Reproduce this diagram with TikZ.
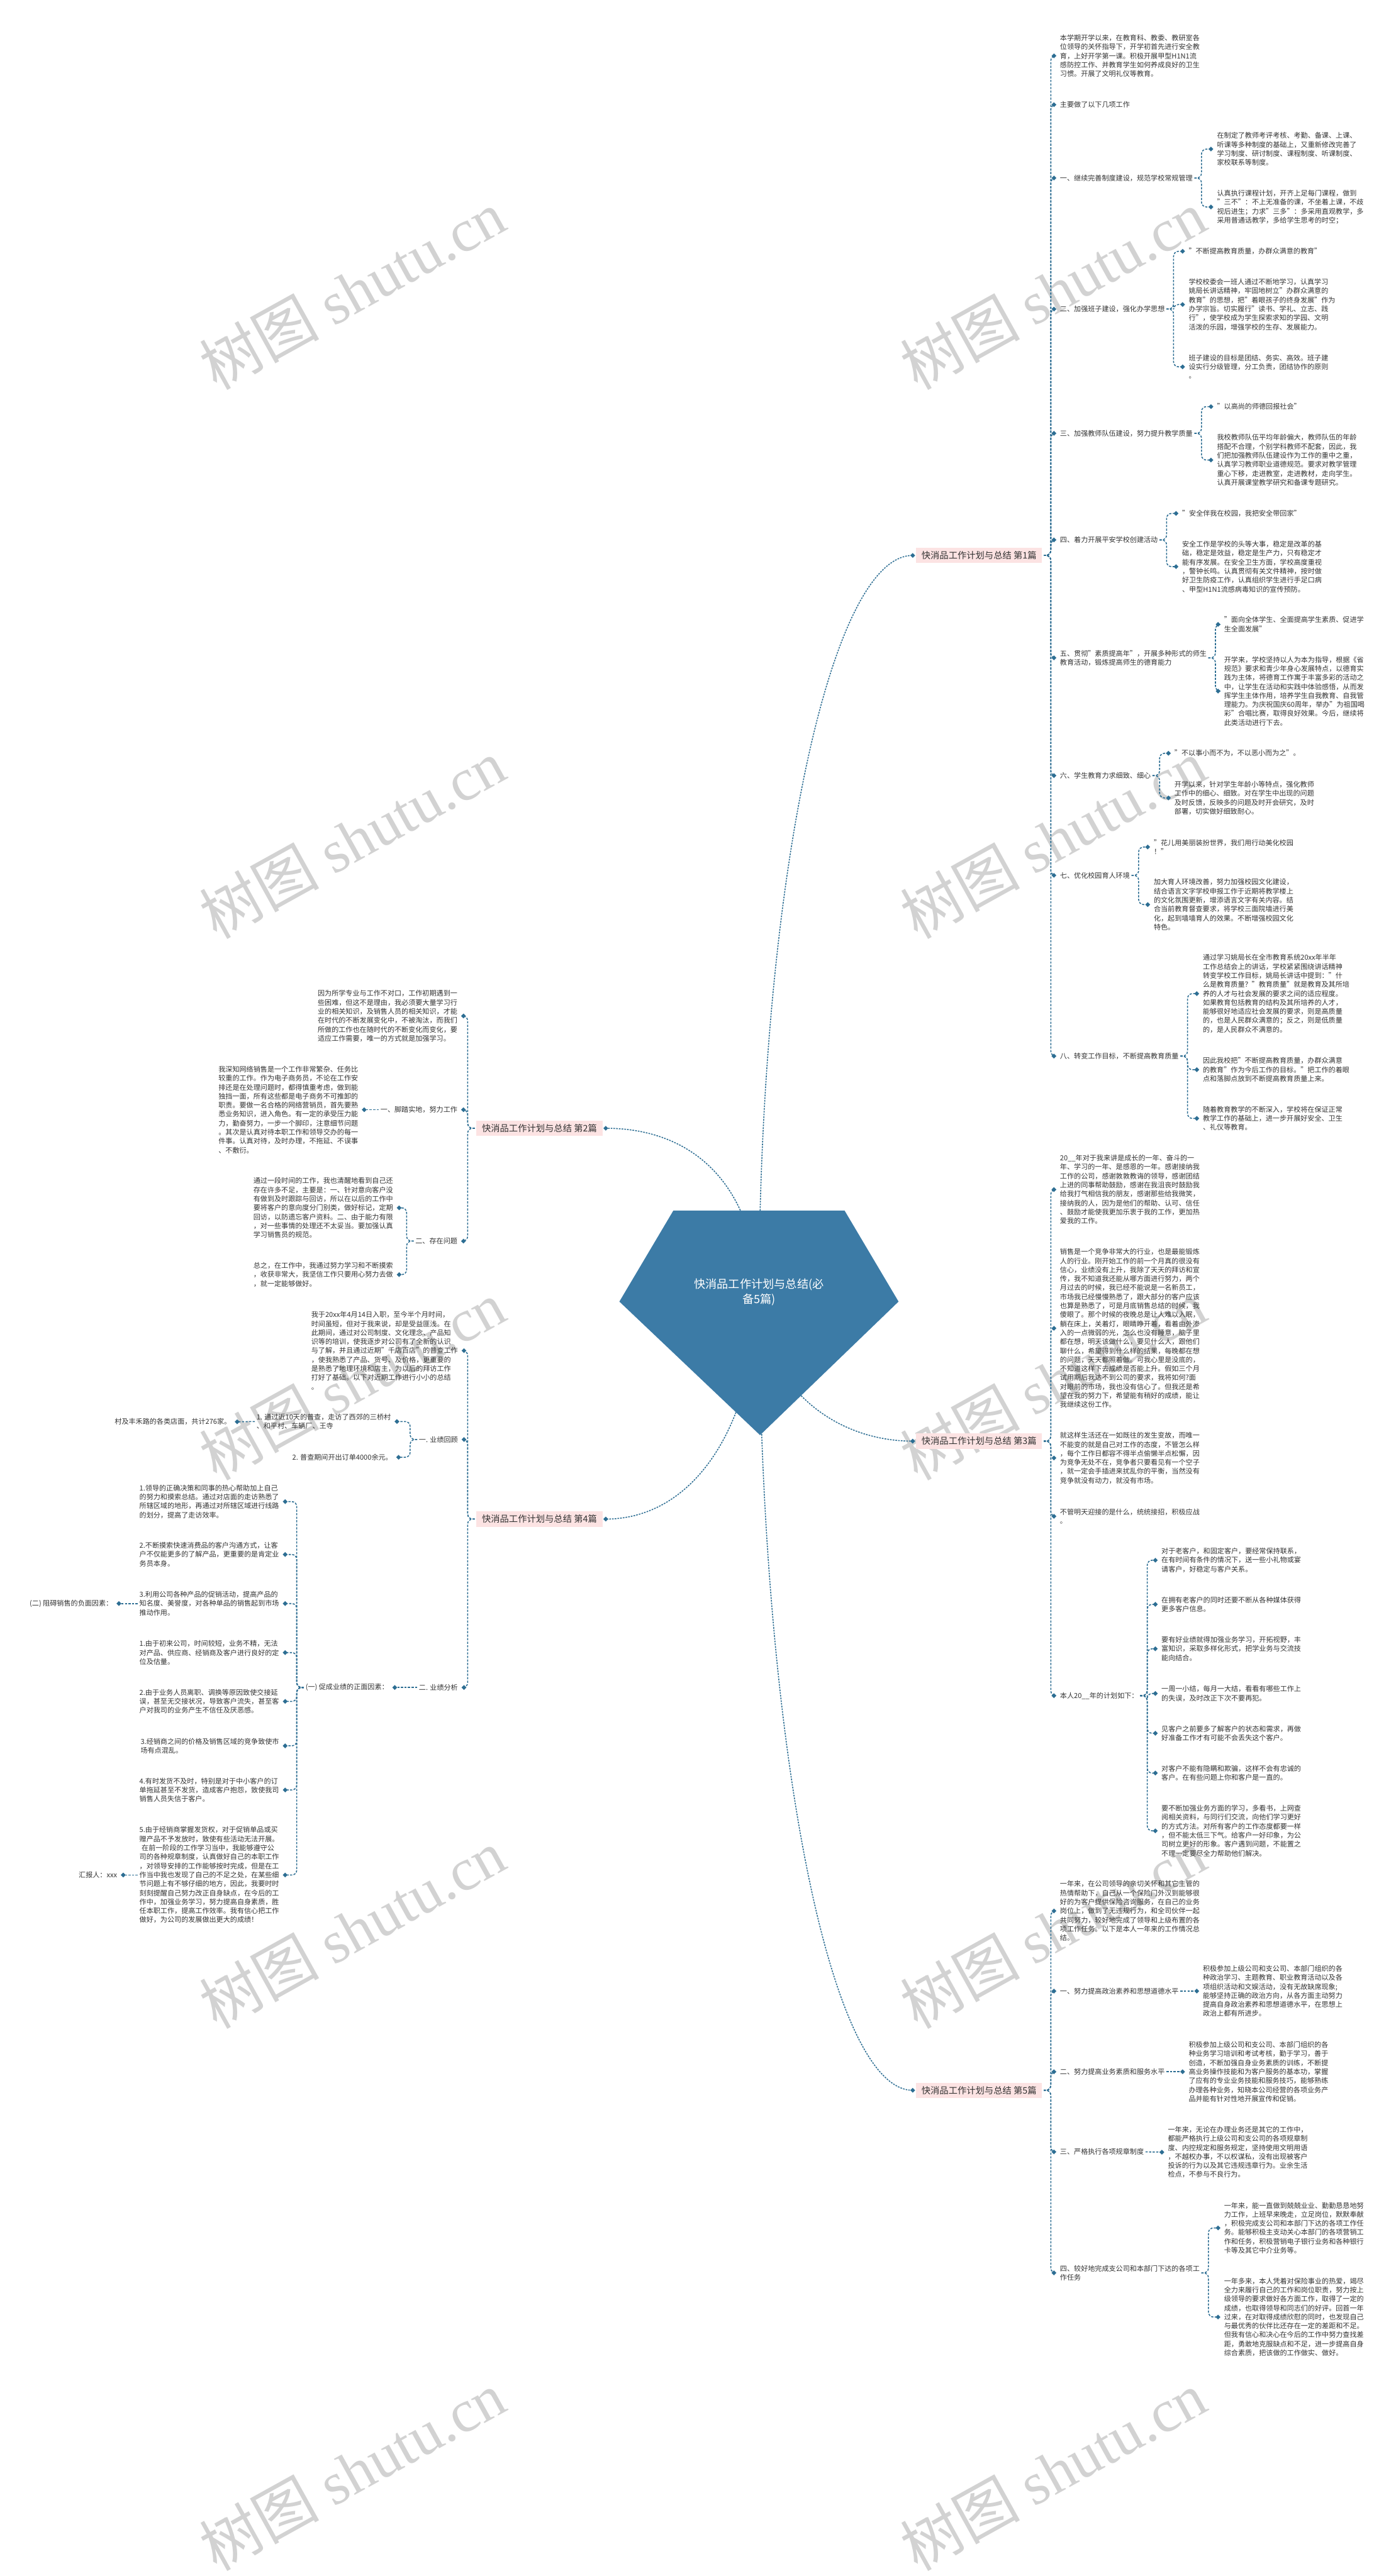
\documentclass[tikz,border=0pt]{standalone}
\usepackage{fontspec}
\setmainfont{Noto Sans CJK SC}
\newfontfamily\wmserif{Liberation Serif}
\usetikzlibrary{shapes.geometric,calc}
\pgfdeclarelayer{bg}
\pgfsetlayers{bg,main}
\definecolor{lcol}{HTML}{2D6E93}
\definecolor{tcol}{HTML}{333333}
\definecolor{pinkc}{HTML}{FCE3E3}
\definecolor{rootf}{HTML}{3C7BA6}
\definecolor{wmc}{HTML}{D2D2D2}
\newcommand{\fs}{\fontsize{12.8}{16.5}\selectfont}
\newcommand{\myrc}[2]{\draw[conn] ([xshift=3pt]#1.east) -- ++(13,0) |- ([xshift=-11pt]#2.west); \node[dia] at ([xshift=-11pt]#2.west) {};}
\newcommand{\mylc}[2]{\draw[conn] ([xshift=-3pt]#1.west) -- ++(-13,0) |- ([xshift=11pt]#2.east); \node[dia] at ([xshift=11pt]#2.east) {};}
\newcommand{\myrs}[2]{\draw[conn] ([xshift=3pt]#1.east) -- ([xshift=-11pt]#2.west); \node[dia] at ([xshift=-11pt]#2.west) {};}
\newcommand{\myls}[2]{\draw[conn] ([xshift=-3pt]#1.west) -- ([xshift=11pt]#2.east); \node[dia] at ([xshift=11pt]#2.east) {};}
\tikzset{
  txt/.style={font=\fs, text=tcol, align=left, inner sep=0pt},
  lbl/.style={font=\fontsize{16.5}{20}\selectfont, text=tcol, fill=pinkc, inner xsep=10pt, inner ysep=0pt, minimum height=28pt},
  conn/.style={draw=lcol, line width=1.8pt, dash pattern=on 4pt off 2.5pt, rounded corners=9pt},
  rootc/.style={draw=lcol, line width=1.8pt, dash pattern=on 3pt off 2pt},
  dia/.style={diamond, fill=lcol, inner sep=0pt, minimum width=9pt, minimum height=9pt},
  wm/.style={font=\fontsize{110}{120}\selectfont, text=wmc, rotate=29, inner sep=0pt},
  roottxt/.style={font=\fontsize{21}{28}\selectfont, text=white, align=center, inner sep=0pt},
}
\begin{document}
\begin{tikzpicture}[x=1pt,y=-1pt]
\begin{pgfonlayer}{bg}
\fill[white] (0,0) rectangle (2560,4386);
\foreach \wx in {646,1931}{
  \foreach \wy in {532,1539,2532,3539,4533}{
    \node[wm] at (\wx,\wy) {树图 {\wmserif shutu.cn}};
  }
}
\end{pgfonlayer}
\useasboundingbox (0,0) rectangle (2560,4386);

% ---------- root ----------
\fill[rootf] (1235,2221) -- (1549,2221) -- (1648,2388) -- (1394,2633) -- (1136,2388) -- cycle;
\node[roottxt] (root) at (1392,2371) {快消品工作计划与总结(必\\备5篇)};

% ---------- branch labels ----------
\node[lbl, anchor=west] (B1) at (1680,1019) {快消品工作计划与总结 第1篇};
\node[lbl, anchor=east] (B2) at (1105,2070) {快消品工作计划与总结 第2篇};
\node[lbl, anchor=west] (B3) at (1680,2644) {快消品工作计划与总结 第3篇};
\node[lbl, anchor=east] (B4) at (1105,2787) {快消品工作计划与总结 第4篇};
\node[lbl, anchor=west] (B5) at (1680,3835) {快消品工作计划与总结 第5篇};

\begin{pgfonlayer}{bg}
\draw[rootc] (root.center) .. controls (1394,1635) and (1520,1019) .. ([xshift=-6pt]B1.west);
\draw[rootc] (root.center) .. controls (1394,2530) and (1520,2644) .. ([xshift=-6pt]B3.west);
\draw[rootc] (root.center) .. controls (1394,3184) and (1520,3835) .. ([xshift=-6pt]B5.west);
\draw[rootc] (root.center) .. controls (1380,2160) and (1260,2070) .. ([xshift=6pt]B2.east);
\draw[rootc] (root.center) .. controls (1380,2640) and (1260,2787) .. ([xshift=6pt]B4.east);
\end{pgfonlayer}
\node[dia] at ([xshift=-6pt]B1.west) {};
\node[dia] at ([xshift=-6pt]B3.west) {};
\node[dia] at ([xshift=-6pt]B5.west) {};
\node[dia] at ([xshift=6pt]B2.east) {};
\node[dia] at ([xshift=6pt]B4.east) {};

% ================= Branch 1 =================
\node[txt, anchor=west] (b1a) at (1944,102.5) {本学期开学以来，在教育科、教委、教研室各\\位领导的关怀指导下，开学初首先进行安全教\\育，上好开学第一课。积极开展甲型H1N1流\\感防控工作、并教育学生如何养成良好的卫生\\习惯。开展了文明礼仪等教育。};
\node[txt, anchor=west] (b1b) at (1944,192) {主要做了以下几项工作};
\node[txt, anchor=west] (b1c) at (1944,326.6) {一、继续完善制度建设，规范学校常规管理};
\node[txt, anchor=west] (b1c1) at (2232,273.5) {在制定了教师考评考核、考勤、备课、上课、\\听课等多种制度的基础上，又重新修改完善了\\学习制度、研讨制度、课程制度、听课制度、\\家校联系等制度。};
\node[txt, anchor=west] (b1c2) at (2232,379.7) {认真执行课程计划，开齐上足每门课程，做到\\"三不"：不上无准备的课，不坐着上课，不歧\\视后进生；力求"三多"：多采用直观教学，多\\采用普通话教学，多给学生思考的时空；};
\node[txt, anchor=west] (b1d) at (1944,567) {二、加强班子建设，强化办学思想};
\node[txt, anchor=west] (b1d1) at (2180,461) {"不断提高教育质量，办群众满意的教育"};
\node[txt, anchor=west] (b1d2) at (2180,558.7) {学校校委会一班人通过不断地学习，认真学习\\姚局长讲话精神，牢固地树立"办群众满意的\\教育"的思想，把"着眼孩子的终身发展"作为\\办学宗旨。切实履行"读书、学礼、立志、践\\行"，使学校成为学生探索求知的学园、文明\\活泼的乐园，增强学校的生存、发展能力。};
\node[txt, anchor=west] (b1d3) at (2180,673) {班子建设的目标是团结、务实、高效。班子建\\设实行分级管理，分工负责，团结协作的原则\\。};
\node[txt, anchor=west] (b1e) at (1944,795) {三、加强教师队伍建设，努力提升教学质量};
\node[txt, anchor=west] (b1e1) at (2232,746) {"以高尚的师德回报社会"};
\node[txt, anchor=west] (b1e2) at (2232,844) {我校教师队伍平均年龄偏大，教师队伍的年龄\\搭配不合理，个别学科教师不配套，因此，我\\们把加强教师队伍建设作为工作的重中之重，\\认真学习教师职业道德规范。要求对教学管理\\重心下移，走进教室，走进教材，走向学生。\\认真开展课堂教学研究和备课专题研究。};
\node[txt, anchor=west] (b1f) at (1944,990.6) {四、着力开展平安学校创建活动};
\node[txt, anchor=west] (b1f1) at (2168,942) {"安全伴我在校园，我把安全带回家"};
\node[txt, anchor=west] (b1f2) at (2168,1039.6) {安全工作是学校的头等大事，稳定是改革的基\\础，稳定是效益，稳定是生产力，只有稳定才\\能有序发展。在安全卫生方面，学校高度重视\\，警钟长鸣。认真贯彻有关文件精神，按时做\\好卫生防疫工作，认真组织学生进行手足口病\\、甲型H1N1流感病毒知识的宣传预防。};
\node[txt, anchor=west] (b1g) at (1944,1207) {五、贯彻"素质提高年"，开展多种形式的师生\\教育活动，锻炼提高师生的德育能力};
\node[txt, anchor=west] (b1g1) at (2245,1145.5) {"面向全体学生、全面提高学生素质、促进学\\生全面发展"};
\node[txt, anchor=west] (b1g2) at (2245,1268) {开学来，学校坚持以人为本为指导，根据《省\\规范》要求和青少年身心发展特点，以德育实\\践为主体，将德育工作寓于丰富多彩的活动之\\中，让学生在活动和实践中体验感悟，从而发\\挥学生主体作用，培养学生自我教育、自我管\\理能力。为庆祝国庆60周年，举办"为祖国喝\\彩"合唱比赛，取得良好效果。今后，继续将\\此类活动进行下去。};
\node[txt, anchor=west] (b1h) at (1944,1423) {六、学生教育力求细致、细心};
\node[txt, anchor=west] (b1h1) at (2154,1382) {"不以事小而不为，不以恶小而为之"。};
\node[txt, anchor=west] (b1h2) at (2154,1464) {开学以来，针对学生年龄小等特点，强化教师\\工作中的细心、细致。对在学生中出现的问题\\及时反馈，反映多的问题及时开会研究，及时\\部署，切实做好细致耐心。};
\node[txt, anchor=west] (b1i) at (1944,1606) {七、优化校园育人环境};
\node[txt, anchor=west] (b1i1) at (2116,1554) {"花儿用美丽装扮世界，我们用行动美化校园\\！"};
\node[txt, anchor=west] (b1i2) at (2116,1659.6) {加大育人环境改善，努力加强校园文化建设，\\结合语言文字学校申报工作于近期将教学楼上\\的文化氛围更新，增添语言文字有关内容。结\\合当前教育督查要求，将学校三面院墙进行美\\化，起到墙墙育人的效果。不断增强校园文化\\特色。};
\node[txt, anchor=west] (b1j) at (1944,1937.6) {八、转变工作目标，不断提高教育质量};
\node[txt, anchor=west] (b1j1) at (2206,1823) {通过学习姚局长在全市教育系统20xx年半年\\工作总结会上的讲话，学校紧紧围绕讲话精神\\转变学校工作目标，姚局长讲话中提到："什\\么是教育质量？"教育质量"就是教育及其所培\\养的人才与社会发展的要求之间的适应程度。\\如果教育包括教育的结构及其所培养的人才，\\能够很好地适应社会发展的要求，则是高质量\\的，也是人民群众满意的；反之，则是低质量\\的，是人民群众不满意的。};
\node[txt, anchor=west] (b1j2) at (2206,1962.5) {因此我校把"不断提高教育质量，办群众满意\\的教育"作为今后工作的目标。"把工作的着眼\\点和落脚点放到不断提高教育质量上来。};
\node[txt, anchor=west] (b1j3) at (2206,2052) {随着教育教学的不断深入，学校将在保证正常\\教学工作的基础上，进一步开展好安全、卫生\\、礼仪等教育。};

\myrc{B1}{b1a} \myrc{B1}{b1b} \myrc{B1}{b1c} \myrc{B1}{b1d} \myrc{B1}{b1e}
\myrc{B1}{b1f} \myrc{B1}{b1g} \myrc{B1}{b1h} \myrc{B1}{b1i} \myrc{B1}{b1j}
\myrc{b1c}{b1c1} \myrc{b1c}{b1c2}
\myrc{b1d}{b1d1} \myrc{b1d}{b1d2} \myrc{b1d}{b1d3}
\myrc{b1e}{b1e1} \myrc{b1e}{b1e2}
\myrc{b1f}{b1f1} \myrc{b1f}{b1f2}
\myrc{b1g}{b1g1} \myrc{b1g}{b1g2}
\myrc{b1h}{b1h1} \myrc{b1h}{b1h2}
\myrc{b1i}{b1i1} \myrc{b1i}{b1i2}
\myrc{b1j}{b1j1} \myrc{b1j}{b1j2} \myrc{b1j}{b1j3}

% ================= Branch 3 =================
\node[txt, anchor=west] (b3a) at (1944,2182.5) {20\_\_年对于我来讲是成长的一年、奋斗的一\\年、学习的一年、是感恩的一年。感谢接纳我\\工作的公司，感谢敦敦教诲的领导，感谢团结\\上进的同事帮助鼓励，感谢在我沮丧时鼓励我\\给我打气相信我的朋友，感谢那些给我微笑，\\接纳我的人，因为是他们的帮助、认可、信任\\、鼓励才能使我更加乐衷于我的工作，更加热\\爱我的工作。};
\node[txt, anchor=west] (b3b) at (1944,2437) {销售是一个竞争非常大的行业，也是最能锻炼\\人的行业。刚开始工作的前一个月真的很没有\\信心，业绩没有上升，我除了天天的拜访和宣\\传，我不知道我还能从哪方面进行努力，两个\\月过去的时候，我已经不能说是一名新员工，\\市场我已经慢慢熟悉了，跟大部分的客户应该\\也算是熟悉了，可是月底销售总结的时候，我\\傻眼了。那个时候的夜晚总是让人难以入眠，\\躺在床上，关着灯，眼睛睁开着，看着由外渗\\入的一点微弱的光，怎么也没有睡意，脑子里\\都在想，明天该做什么，要见什么人，跟他们\\聊什么，希望得到什么样的结果，每晚都在想\\的问题，天天都照着做。可我心里是没底的，\\不知道这样下去成绩是否能上升。假如三个月\\试用期后我达不到公司的要求，我将如何?面\\对眼前的市场，我也没有信心了。但我还是希\\望在我的努力下，希望能有稍好的成绩，能让\\我继续这份工作。};
\node[txt, anchor=west] (b3c) at (1944,2675) {就这样生活还在一如既往的发生变故，而唯一\\不能变的就是自己对工作的态度，不管怎么样\\，每个工作日都容不得半点偷懒半点松懈，因\\为竞争无处不在，竞争者只要看见有一个空子\\，就一定会手插进来扰乱你的平衡，当然没有\\竞争就没有动力，就没有市场。};
\node[txt, anchor=west] (b3d) at (1944,2782) {不管明天迎接的是什么，统统接招，积极应战\\。};
\node[txt, anchor=west] (b3e) at (1944,3111) {本人20\_\_年的计划如下：};
\node[txt, anchor=west] (b3e1) at (2130,2862.5) {对于老客户，和固定客户，要经常保持联系，\\在有时间有条件的情况下，送一些小礼物或宴\\请客户，好稳定与客户关系。};
\node[txt, anchor=west] (b3e2) at (2130,2943.5) {在拥有老客户的同时还要不断从各种媒体获得\\更多客户信息。};
\node[txt, anchor=west] (b3e3) at (2130,3025) {要有好业绩就得加强业务学习，开拓视野，丰\\富知识，采取多样化形式，把学业务与交流技\\能向结合。};
\node[txt, anchor=west] (b3e4) at (2130,3107) {一周一小结，每月一大结，看看有哪些工作上\\的失误，及时改正下次不要再犯。};
\node[txt, anchor=west] (b3e5) at (2130,3180) {见客户之前要多了解客户的状态和需求，再做\\好准备工作才有可能不会丢失这个客户。};
\node[txt, anchor=west] (b3e6) at (2130,3253) {对客户不能有隐瞒和欺骗，这样不会有忠诚的\\客户。在有些问题上你和客户是一直的。};
\node[txt, anchor=west] (b3e7) at (2130,3359) {要不断加强业务方面的学习，多看书，上网查\\阅相关资料，与同行们交流，向他们学习更好\\的方式方法。对所有客户的工作态度都要一样\\，但不能太低三下气。给客户一好印象，为公\\司树立更好的形象。客户遇到问题，不能置之\\不理一定要尽全力帮助他们解决。};

\myrc{B3}{b3a} \myrc{B3}{b3b} \myrc{B3}{b3c} \myrc{B3}{b3d} \myrc{B3}{b3e}
\myrc{b3e}{b3e1} \myrc{b3e}{b3e2} \myrc{b3e}{b3e3} \myrc{b3e}{b3e4}
\myrc{b3e}{b3e5} \myrc{b3e}{b3e6} \myrc{b3e}{b3e7}

% ================= Branch 5 =================
\node[txt, anchor=west] (b5a) at (1944,3506) {一年来，在公司领导的亲切关怀和其它主管的\\热情帮助下，自己从一个保险门外汉到能够很\\好的为客户提供保险咨询服务，在自己的业务\\岗位上，做到了无违规行为，和全司伙伴一起\\共同努力，较好地完成了领导和上级布置的各\\项工作任务。以下是本人一年来的工作情况总\\结。};
\node[txt, anchor=west] (b5b) at (1944,3653) {一、努力提高政治素养和思想道德水平};
\node[txt, anchor=west] (b5b1) at (2206,3653) {积极参加上级公司和支公司、本部门组织的各\\种政治学习、主题教育、职业教育活动以及各\\项组织活动和文娱活动，没有无故缺席现象;\\能够坚持正确的政治方向，从各方面主动努力\\提高自身政治素养和思想道德水平，在思想上\\政治上都有所进步。};
\node[txt, anchor=west] (b5c) at (1944,3801) {二、努力提高业务素质和服务水平};
\node[txt, anchor=west] (b5c1) at (2180,3801) {积极参加上级公司和支公司、本部门组织的各\\种业务学习培训和考试考核，勤于学习，善于\\创造，不断加强自身业务素质的训练，不断提\\高业务操作技能和为客户服务的基本功，掌握\\了应有的专业业务技能和服务技巧，能够熟练\\办理各种业务，知晓本公司经营的各项业务产\\品并能有针对性地开展宣传和促销。};
\node[txt, anchor=west] (b5d) at (1944,3948) {三、严格执行各项规章制度};
\node[txt, anchor=west] (b5d1) at (2142,3948.5) {一年来，无论在办理业务还是其它的工作中，\\都能严格执行上级公司和支公司的各项规章制\\度、内控规定和服务规定，坚持使用文明用语\\，不越权办事，不以权谋私，没有出现被客户\\投诉的行为以及其它违规违章行为。业余生活\\检点，不参与不良行为。};
\node[txt, anchor=west] (b5e) at (1944,4170) {四、较好地完成支公司和本部门下达的各项工\\作任务};
\node[txt, anchor=west] (b5e1) at (2245,4087.5) {一年来，能一直做到兢兢业业、勤勤恳恳地努\\力工作，上班早来晚走，立足岗位，默默奉献\\，积极完成支公司和本部门下达的各项工作任\\务。能够积极主支动关心本部门的各项营销工\\作和任务，积极营销电子银行业务和各种银行\\卡等及其它中介业务等。};
\node[txt, anchor=west] (b5e2) at (2245,4251) {一年多来，本人凭着对保险事业的热爱，竭尽\\全力来履行自己的工作和岗位职责，努力按上\\级领导的要求做好各方面工作，取得了一定的\\成绩，也取得领导和同志们的好评。回首一年\\过来，在对取得成绩欣慰的同时，也发现自己\\与最优秀的伙伴比还存在一定的差距和不足。\\但我有信心和决心在今后的工作中努力查找差\\距，勇敢地克服缺点和不足，进一步提高自身\\综合素质，把该做的工作做实、做好。};

\myrc{B5}{b5a} \myrc{B5}{b5b} \myrc{B5}{b5c} \myrc{B5}{b5d} \myrc{B5}{b5e}
\myrs{b5b}{b5b1} \myrs{b5c}{b5c1} \myrs{b5d}{b5d1}
\myrc{b5e}{b5e1} \myrc{b5e}{b5e2}

% ================= Branch 2 =================
\node[txt, anchor=east] (b2a) at (839,1864) {因为所学专业与工作不对口，工作初期遇到一\\些困难，但这不是理由，我必须要大量学习行\\业的相关知识，及销售人员的相关知识，才能\\在时代的不断发展变化中，不被淘汰，而我们\\所做的工作也在随时代的不断变化而变化，要\\适应工作需要，唯一的方式就是加强学习。};
\node[txt, anchor=east] (b2b) at (839,2036) {一、脚踏实地，努力工作};
\node[txt, anchor=east] (b2b1) at (657,2036) {我深知网络销售是一个工作非常繁杂、任务比\\较重的工作。作为电子商务员，不论在工作安\\排还是在处理问题时，都得慎重考虑，做到能\\独挡一面，所有这些都是电子商务不可推卸的\\职责。要做一名合格的网络营销员，首先要熟\\悉业务知识，进入角色。有一定的承受压力能\\力，勤奋努力，一步一个脚印，注意细节问题\\。其次是认真对待本职工作和领导交办的每一\\件事。认真对待，及时办理，不拖延、不误事\\、不敷衍。};
\node[txt, anchor=east] (b2c) at (839,2277) {二、存在问题};
\node[txt, anchor=east] (b2c1) at (721,2216) {通过一段时间的工作，我也清醒地看到自己还\\存在许多不足，主要是：一、针对意向客户没\\有做到及时跟踪与回访，所以在以后的工作中\\要将客户的意向度分门别类，做好标记，定期\\回访，以防遗忘客户资料。二、由于能力有限\\，对一些事情的处理还不太妥当。要加强认真\\学习销售员的规范。};
\node[txt, anchor=east] (b2c2) at (721,2338.5) {总之，在工作中，我通过努力学习和不断摸索\\，收获非常大，我坚信工作只要用心努力去做\\，就一定能够做好。};

\mylc{B2}{b2a} \mylc{B2}{b2b} \mylc{B2}{b2c}
\myls{b2b}{b2b1}
\mylc{b2c}{b2c1} \mylc{b2c}{b2c2}

% ================= Branch 4 =================
\node[txt, anchor=east] (b4a) at (840,2478) {我于20xx年4月14日入职，至今半个月时间，\\时间虽短，但对于我来说，却是受益匪浅。在\\此期间，通过对公司制度、文化理念、产品知\\识等的培训，使我逐步对公司有了全新的认识\\与了解，并且通过近期"千店百店"的普查工作\\，使我熟悉了产品、货号、及价格，更重要的\\是熟悉了地理环境和店主，为以后的拜访工作\\打好了基础。以下对近期工作进行小小的总结\\。};
\node[txt, anchor=east] (b4b) at (840,2641) {一. 业绩回顾};
\node[txt, anchor=east] (b4b1) at (717,2608) {1. 通过近10天的普查，走访了西郊的三桥村\\、和平村、车辆厂、王寺};
\node[txt, anchor=east] (b4b1x) at (424,2608.6) {村及丰禾路的各类店面，共计276家。};
\node[txt, anchor=east] (b4b2) at (720,2673.6) {2. 普查期间开出订单4000余元。};
\node[txt, anchor=east] (b4c) at (840,3096) {二. 业绩分析};
\node[txt, anchor=east] (b4c1) at (713,3096) {(一) 促成业绩的正面因素：};
\node[txt, anchor=east] (c1) at (512,2755) {1.领导的正确决策和同事的热心帮助加上自己\\的努力和摸索总结。通过对店面的走访熟悉了\\所辖区域的地形，再通过对所辖区域进行线路\\的划分，提高了走访效率。};
\node[txt, anchor=east] (c2) at (512,2852) {2.不断摸索快速消费品的客户沟通方式，让客\\户不仅能更多的了解产品，更重要的是肯定业\\务员本身。};
\node[txt, anchor=east] (c3) at (512,2942) {3.利用公司各种产品的促销活动，提高产品的\\知名度、美誉度，对各种单品的销售起到市场\\推动作用。};
\node[txt, anchor=east] (c3x) at (207,2942) {(二) 阻碍销售的负面因素：};
\node[txt, anchor=east] (c4) at (512,3032) {1.由于初来公司，时间较短，业务不精，无法\\对产品、供应商、经销商及客户进行良好的定\\位及估量。};
\node[txt, anchor=east] (c5) at (512,3121.5) {2.由于业务人员离职、调换等原因致使交接延\\误，甚至无交接状况，导致客户流失，甚至客\\户对我司的业务产生不信任及厌恶感。};
\node[txt, anchor=east] (c6) at (512,3203) {3.经销商之间的价格及销售区域的竞争致使市\\场有点混乱。};
\node[txt, anchor=east] (c7) at (512,3284) {4.有时发货不及时，特别是对于中小客户的订\\单拖延甚至不发货，造成客户抱怨，致使我司\\销售人员失信于客户。};
\node[txt, anchor=east] (c8) at (512,3440) {5.由于经销商掌握发货权，对于促销单品或买\\赠产品不予发放时，致使有些活动无法开展。\\\hspace*{4pt}在前一阶段的工作学习当中，我能够遵守公\\司的各种规章制度，认真做好自己的本职工作\\，对领导安排的工作能够按时完成，但是在工\\作当中我也发现了自己的不足之处，在某些细\\节问题上有不够仔细的地方，因此，我要时时\\刻刻提醒自己努力改正自身缺点，在今后的工\\作中，加强业务学习，努力提高自身素质，胜\\任本职工作，提高工作效率。我有信心把工作\\做好，为公司的发展做出更大的成绩！};
\node[txt, anchor=east] (rep) at (215,3440) {汇报人：xxx};

\mylc{B4}{b4a} \mylc{B4}{b4b} \mylc{B4}{b4c}
\mylc{b4b}{b4b1} \mylc{b4b}{b4b2}
\myls{b4b1}{b4b1x}
\myls{b4c}{b4c1}
\mylc{b4c1}{c1} \mylc{b4c1}{c2} \mylc{b4c1}{c3} \mylc{b4c1}{c4}
\mylc{b4c1}{c5} \mylc{b4c1}{c6} \mylc{b4c1}{c7} \mylc{b4c1}{c8}
\myls{c3}{c3x}
\myls{c8}{rep}
\end{tikzpicture}
\end{document}
